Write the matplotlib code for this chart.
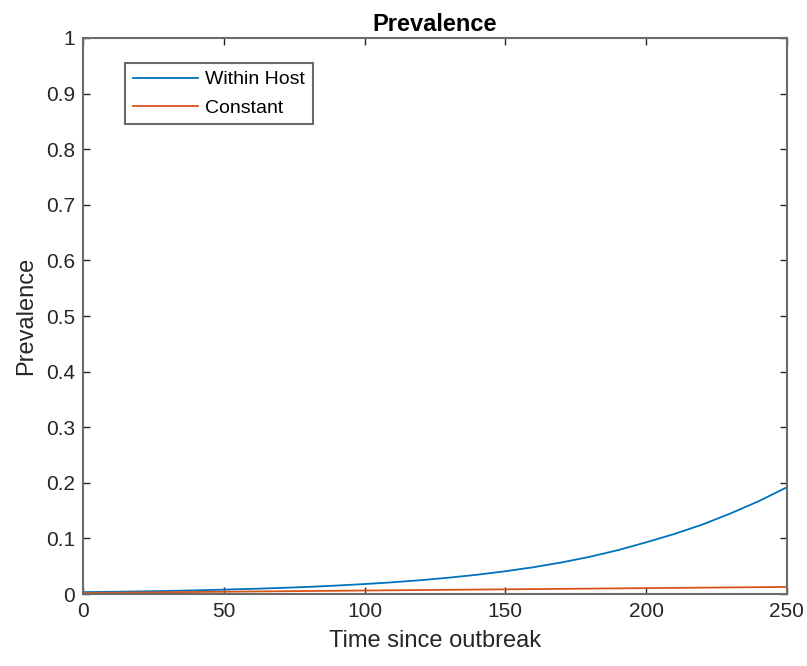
import matplotlib.pyplot as plt
import numpy as np

plt.rcParams['font.family'] = ['Liberation Sans', 'DejaVu Sans']

# values
t = [0, 10, 20, 30, 40, 50, 60, 70, 80, 90, 100, 110, 120, 130, 140, 150,
     160, 170, 180, 190, 200, 210, 220, 230, 240, 250]
within_host = [0.0035, 0.0041, 0.0048, 0.0056, 0.0067, 0.008, 0.0094, 0.011,
               0.0129, 0.0153, 0.018, 0.0212, 0.025, 0.0295, 0.0348, 0.041,
               0.0483, 0.0569, 0.067, 0.079, 0.093, 0.108, 0.125, 0.145,
               0.167, 0.192]
t_const = [0, 50, 100, 150, 200, 250]
constant = [0.002, 0.0042, 0.0064, 0.0085, 0.0107, 0.0128]

fig = plt.figure(figsize=(8.07, 6.66), dpi=100)
ax = fig.add_axes([0.103, 0.108, 0.872, 0.835])

ax.plot(t, within_host, color='#0072BD', lw=1.3, label='Within Host')
ax.plot(t_const, constant, color='#D95319', lw=1.3, label='Constant')

ax.set_xlim(0, 250)
ax.set_ylim(0, 1)
ax.set_xticks(np.arange(0, 251, 50))
ax.set_yticks(np.arange(0, 1.01, 0.1))
ax.set_yticklabels(['0', '0.1', '0.2', '0.3', '0.4', '0.5', '0.6', '0.7', '0.8', '0.9', '1'])

for s in ax.spines.values():
    s.set_color('#6b6b6b')
    s.set_linewidth(1.5)
ax.tick_params(direction='in', top=True, right=True, length=5, width=1,
               colors='#262626', labelsize=15, pad=6)

ax.set_title('Prevalence', fontsize=17, fontweight='bold', color='black', pad=5)
ax.set_xlabel('Time since outbreak', fontsize=17, color='#262626', labelpad=6)
ax.set_ylabel('Prevalence', fontsize=17, color='#262626', labelpad=6)

leg = ax.legend(loc='upper left', bbox_to_anchor=(0.06, 0.955), borderaxespad=0,
                fontsize=14, fancybox=False, edgecolor='#6b6b6b', framealpha=1,
                handlelength=3.35, borderpad=0.4, labelspacing=0.55, handletextpad=0.35)
leg.get_frame().set_linewidth(1.5)

fig.savefig('out.png', dpi=100, facecolor='white')
